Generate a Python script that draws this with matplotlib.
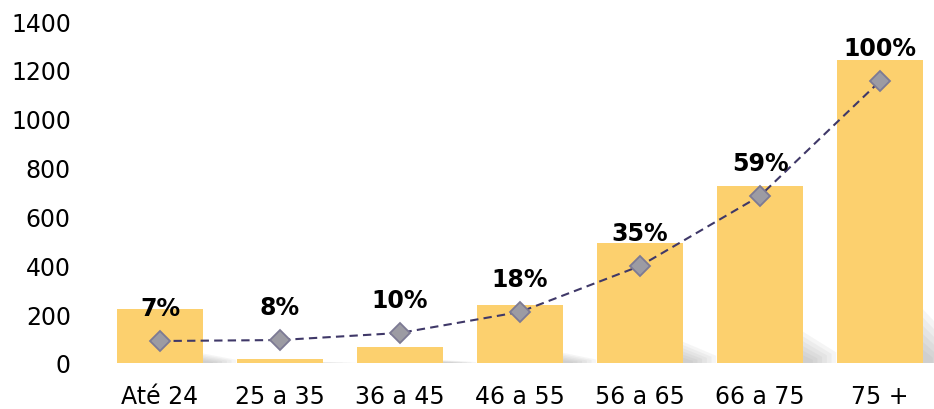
import numpy as np
import matplotlib
matplotlib.use("Agg")
import matplotlib.pyplot as plt
from matplotlib.patches import Polygon

plt.rcParams["font.family"] = ["DejaVu Sans"]

categories = ["Até 24", "25 a 35", "36 a 45", "46 a 55", "56 a 65", "66 a 75", "75 +"]
bar_values = [221, 16, 65, 237, 491, 724, 1240]
line_values = [90, 94, 123, 209, 397, 684, 1154]
pct_labels = ["7%", "8%", "10%", "18%", "35%", "59%", "100%"]
y_ticks = [0, 200, 400, 600, 800, 1000, 1200, 1400]

BAR_COLOR = "#FCD06E"
LINE_COLOR = "#3F3868"
MARKER_FACE = "#9C9BA3"
MARKER_EDGE = "#7D7A94"

W, H = 934, 410
fig = plt.figure(figsize=(W / 100, H / 100), dpi=100)
# axes placed in pixel terms: x=-0.5 at 100px, 120px per category; y 0 at 364px, 1400 at 22px
ax = fig.add_axes([100 / W, 1 - 364 / H, 840 / W, 342 / H])

x = np.arange(len(categories))
bar_w = 0.71

# soft cast shadow behind the bars
for xi, h in zip(x, bar_values):
    xr = xi + bar_w / 2
    sh = h * 0.2
    for k in range(6):
        f = 1 - k * 0.14
        poly = Polygon([(xr - 0.05, 0), (xr - 0.05, sh * f), (xr + 0.28 * f, sh * f * 0.3), (xr + 0.28 * f, 0)],
                       closed=True, facecolor="#8a8a8a", edgecolor="none", alpha=0.08, zorder=1)
        ax.add_patch(poly)

ax.bar(x, bar_values, width=bar_w, color=BAR_COLOR, zorder=2)
ax.plot(x, line_values, color=LINE_COLOR, linestyle=(0, (4, 2.5)), linewidth=1.5,
        marker="D", markersize=10.5, markerfacecolor=MARKER_FACE, markeredgecolor=MARKER_EDGE,
        markeredgewidth=1.3, zorder=3)

for xi, v, lab in zip(x, line_values, pct_labels):
    ax.annotate(lab, (xi, v), xytext=(0, 24), textcoords="offset points",
                ha="center", va="center", fontsize=17, fontweight="bold", color="black", zorder=4)

ax.set_xlim(-0.5, 6.5)
ax.set_ylim(0, 1400)
ax.set_xticks(x)
ax.set_xticklabels(categories, fontsize=17)
ax.set_yticks(y_ticks)
ax.set_yticklabels([str(t) for t in y_ticks], fontsize=17)
ax.tick_params(axis="y", length=0, pad=21)
ax.tick_params(axis="x", length=0, pad=15)
for s in ax.spines.values():
    s.set_visible(False)

fig.savefig("out.png", dpi=100)
